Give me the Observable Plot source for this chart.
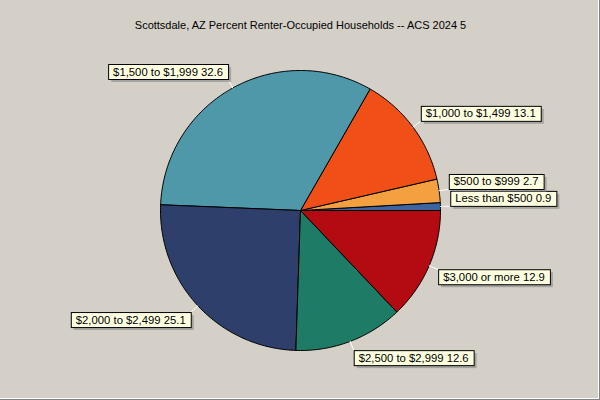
<!DOCTYPE html>
<html><head><meta charset="utf-8">
<script src="https://cdn.jsdelivr.net/npm/d3@7"></script>
<script src="https://cdn.jsdelivr.net/npm/@observablehq/plot@0.6"></script>
<style>
html,body{margin:0;padding:0;background:#d4d0c8;}
#chart{width:600px;height:400px;position:relative;background:#d4d0c8;box-shadow:inset -1px -1px 0 #808080, inset -2px -2px 0 #ffffff;overflow:hidden}
#chart svg{display:block;background:transparent}
</style></head><body><div id="chart"></div>
<script>
const title = "Scottsdale, AZ Percent Renter-Occupied Households -- ACS 2024 5";
const categories = ["Less than $500", "$500 to $999", "$1,000 to $1,499", "$1,500 to $1,999", "$2,000 to $2,499", "$2,500 to $2,999", "$3,000 or more"];
const values = [0.9, 2.7, 13.1, 32.6, 25.1, 12.6, 12.9];
const colors = ["#3d64a0", "#f5a040", "#f05018", "#4e98a9", "#2e3f6c", "#1e7b66", "#b40a12"];

const FONT = "'Liberation Sans', Arial, sans-serif";
const total = d3.sum(values);
let cum = 0;
const slices = categories.map((c, i) => {
  const a0 = cum / total * 2 * Math.PI;
  cum += values[i];
  const a1 = cum / total * 2 * Math.PI;
  return {category: c, value: values[i], color: colors[i], a0, a1, mid: (a0 + a1) / 2};
});
function slicePoints(s) {
  const n = Math.max(2, Math.ceil((s.a1 - s.a0) / (Math.PI / 180)));
  const pts = [{x: 0, y: 0}];
  for (let k = 0; k <= n; k++) {
    const a = s.a0 + (s.a1 - s.a0) * k / n;
    pts.push({x: Math.cos(a), y: Math.sin(a)});
  }
  pts.push({x: 0, y: 0});
  return pts;
}
const labelText = d => `${d.category} ${d.value}`;
const labelSet = new Set(slices.map(labelText));
const R_LABEL = 1.07;
const marks = [];
slices.forEach(s => {
  marks.push(Plot.line(slicePoints(s), {x: "x", y: "y", fill: s.color, stroke: "#000", strokeWidth: 1, curve: "linear"}));
});
slices.forEach(s => {
  const leader = [{x: Math.cos(s.mid), y: Math.sin(s.mid)}, {x: R_LABEL * Math.cos(s.mid), y: R_LABEL * Math.sin(s.mid)}];
  marks.push(Plot.line(leader, {x: "x", y: "y", stroke: "#ffffff", strokeWidth: 1}));
});
slices.forEach(s => {
  const right = Math.cos(s.mid) >= 0;
  const up = Math.sin(s.mid) >= 0;
  marks.push(Plot.text([s], {
    x: d => R_LABEL * Math.cos(d.mid),
    y: d => R_LABEL * Math.sin(d.mid),
    text: labelText,
    textAnchor: right ? "start" : "end",
    lineAnchor: "middle",
    dx: right ? 5 : -5,
    dy: up ? -7.5 : 7.5,
    fontSize: 11.3,
    fontFamily: FONT,
    fill: "#000"
  }));
});
marks.push(Plot.text([title], {frameAnchor: "top", dy: 25, lineAnchor: "middle", text: d => d, fontSize: 11, fontFamily: FONT, fill: "#000"}));

const chart = Plot.plot({
  width: 600, height: 400, margin: 0,
  style: {background: "transparent", fontFamily: FONT},
  x: {domain: [-300 / 140, 300 / 140], range: [0, 600], axis: null},
  y: {domain: [-190 / 140, 210 / 140], range: [400, 0], axis: null},
  marks
});
document.getElementById("chart").appendChild(chart);

const ns = "http://www.w3.org/2000/svg";
Array.from(chart.querySelectorAll("text")).filter(t => labelSet.has(t.textContent)).forEach(t => {
  const b = t.getBBox();
  const pad = 5, h = 15;
  const cy = b.y + b.height / 2;
  const tr = t.getAttribute("transform");
  const shadow = document.createElementNS(ns, "rect");
  shadow.setAttribute("x", b.x - pad + 3);
  shadow.setAttribute("y", cy - h / 2 + 3);
  shadow.setAttribute("width", b.width + 2 * pad);
  shadow.setAttribute("height", h);
  shadow.setAttribute("fill", "#808080");
  shadow.setAttribute("fill-opacity", "0.55");
  const box = document.createElementNS(ns, "rect");
  box.setAttribute("x", b.x - pad + 0.5);
  box.setAttribute("y", cy - h / 2 + 0.5);
  box.setAttribute("width", b.width + 2 * pad);
  box.setAttribute("height", h);
  box.setAttribute("fill", "#ffffe1");
  box.setAttribute("stroke", "#000");
  box.setAttribute("stroke-width", 1);
  if (tr) { shadow.setAttribute("transform", tr); box.setAttribute("transform", tr); }
  t.parentNode.insertBefore(shadow, t);
  t.parentNode.insertBefore(box, t);
});
</script>
</body></html>
